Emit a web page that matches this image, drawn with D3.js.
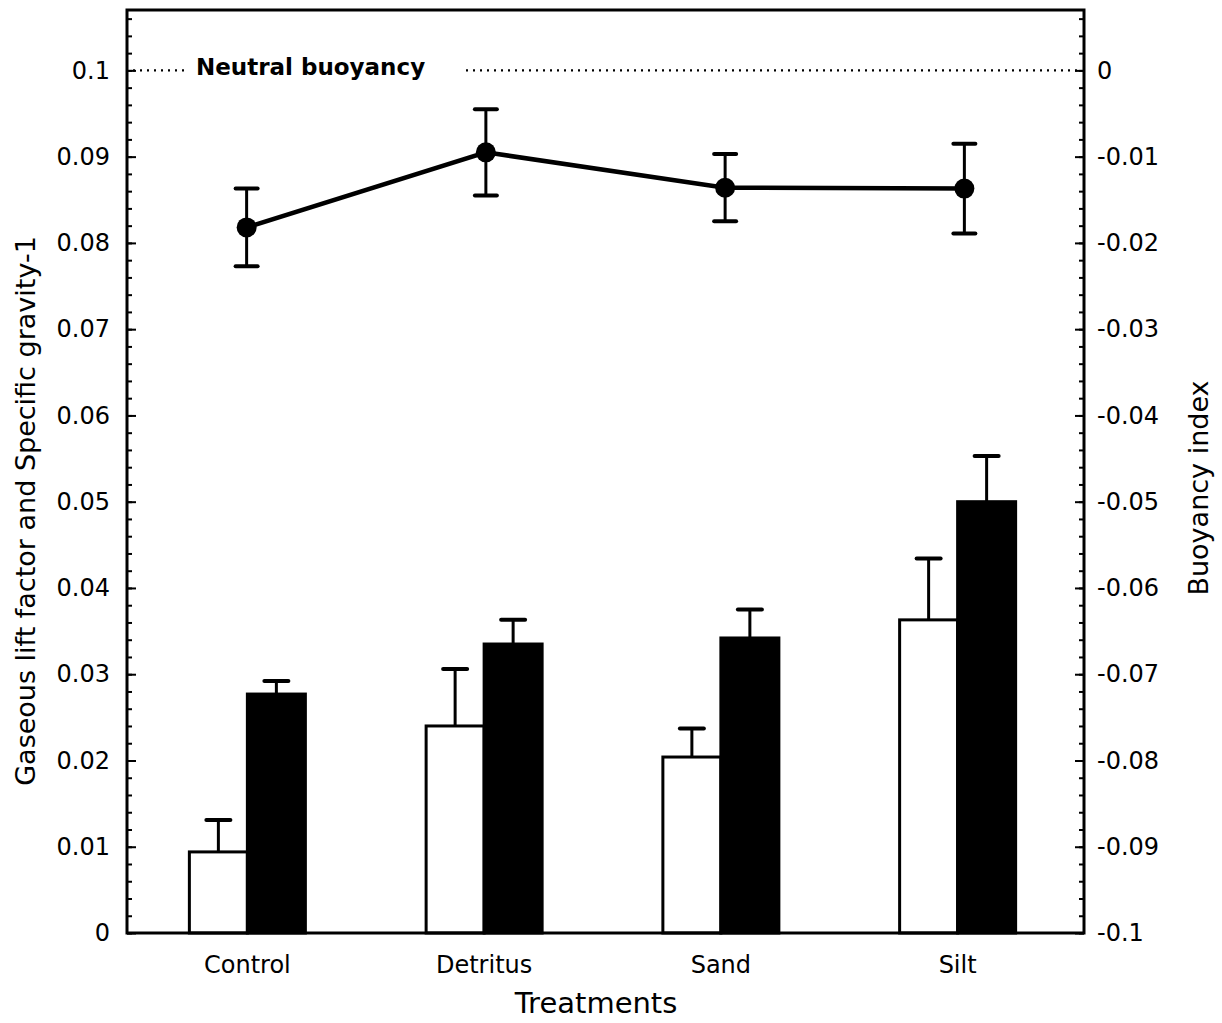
<!DOCTYPE html>
<html>
<head>
<meta charset="utf-8">
<script src="https://cdn.jsdelivr.net/npm/d3@7"></script>
<style>
  html, body { margin: 0; padding: 0; background: #fff; }
  svg text { font-family: "DejaVu Sans", sans-serif; fill: #000; }
</style>
</head>
<body>
<svg id="chart" width="1222" height="1023"></svg>
<script>
// Treatments on the x axis
const categories = ["Control", "Detritus", "Sand", "Silt"];

// Gaseous lift factor (open bars) with upper standard error
const liftFactor    = [0.0094, 0.0240, 0.0204, 0.0363];
const liftFactorErr = [0.0037, 0.0066, 0.0033, 0.0071];

// Specific gravity - 1 (filled bars) with upper standard error
const specGravity    = [0.0277, 0.0335, 0.0342, 0.0500];
const specGravityErr = [0.0015, 0.0028, 0.0033, 0.0053];

// Buoyancy index (line, right axis) with standard error
const buoyancy    = [-0.0182, -0.0095, -0.0136, -0.0137];
const buoyancyErr = [0.0045, 0.0050, 0.0039, 0.0052];

// Tick labels
const leftTicks  = [0, 0.01, 0.02, 0.03, 0.04, 0.05, 0.06, 0.07, 0.08, 0.09, 0.1];
const rightTicks = [-0.1, -0.09, -0.08, -0.07, -0.06, -0.05, -0.04, -0.03, -0.02, -0.01, 0];

const FONT = "DejaVu Sans, sans-serif";
const svg = d3.select("#chart");
const plotLeft = 127, plotRight = 1084, plotTop = 10, plotBottom = 933;

const yL = d3.scaleLinear().domain([0, 0.107]).range([plotBottom, plotTop]);
const yR = d3.scaleLinear().domain([-0.1, 0.007]).range([plotBottom, plotTop]);

const xLine = d3.scalePoint().domain(categories).range([plotLeft, plotRight]).padding(0.5);
const xBar  = d3.scalePoint().domain(categories).range([129, 1076]).padding(0.5);
const barW = 58;

const fmt = d => d === 0 ? "0" : String(+d.toFixed(2));

// Minor ticks (every 0.002), inward
const minorL = d3.range(0, 0.1071, 0.002).map(v => +v.toFixed(3));
const minorR = d3.range(-0.1, 0.0071, 0.002).map(v => +v.toFixed(3));

svg.append("g").attr("transform", `translate(${plotLeft},0)`)
  .call(d3.axisLeft(yL).tickValues(minorL).tickSize(-5).tickFormat(""))
  .call(g => g.select(".domain").remove())
  .selectAll("line").attr("stroke-width", 2);

svg.append("g").attr("transform", `translate(${plotRight},0)`)
  .call(d3.axisRight(yR).tickValues(minorR).tickSize(-5).tickFormat(""))
  .call(g => g.select(".domain").remove())
  .selectAll("line").attr("stroke-width", 2);

// Major left axis
const gL = svg.append("g").attr("transform", `translate(${plotLeft},0)`)
  .call(d3.axisLeft(yL).tickValues(leftTicks).tickSize(-9).tickPadding(17).tickFormat(fmt));
gL.select(".domain").remove();
gL.selectAll("line").attr("stroke-width", 2);
gL.selectAll("text").attr("font-size", 24).attr("font-family", FONT);

// Major right axis
const gR = svg.append("g").attr("transform", `translate(${plotRight},0)`)
  .call(d3.axisRight(yR).tickValues(rightTicks).tickSize(-9).tickPadding(13).tickFormat(fmt));
gR.select(".domain").remove();
gR.selectAll("line").attr("stroke-width", 2);
gR.selectAll("text").attr("font-size", 24).attr("font-family", FONT);

// Neutral buoyancy reference line
const nbY = yR(0);
svg.append("line").attr("x1", plotLeft + 6).attr("x2", 188).attr("y1", nbY).attr("y2", nbY)
  .attr("stroke", "#000").attr("stroke-width", 2.2).attr("stroke-dasharray", "2,5");
svg.append("line").attr("x1", 466).attr("x2", plotRight - 4).attr("y1", nbY).attr("y2", nbY)
  .attr("stroke", "#000").attr("stroke-width", 2.2).attr("stroke-dasharray", "2,5");
svg.append("text").attr("x", 196).attr("y", nbY + 5)
  .attr("font-size", 23).attr("font-weight", "bold").text("Neutral buoyancy");

// Bars
const barData = categories.map((c, i) => ({
  c, lift: liftFactor[i], liftErr: liftFactorErr[i], sg: specGravity[i], sgErr: specGravityErr[i]
}));

const errCap = 24;
function upperErr(g, x, v, e) {
  g.append("line").attr("x1", x).attr("x2", x).attr("y1", yL(v)).attr("y2", yL(v + e))
    .attr("stroke", "#000").attr("stroke-width", 3);
  g.append("line").attr("x1", x - errCap / 2).attr("x2", x + errCap / 2)
    .attr("y1", yL(v + e)).attr("y2", yL(v + e))
    .attr("stroke", "#000").attr("stroke-width", 4).attr("stroke-linecap", "round");
}

const bars = svg.append("g");
barData.forEach(d => {
  const cx = xBar(d.c);
  upperErr(bars, cx - barW / 2, d.lift, d.liftErr);
  upperErr(bars, cx + barW / 2, d.sg, d.sgErr);
  bars.append("rect").attr("x", cx - barW).attr("y", yL(d.lift))
    .attr("width", barW).attr("height", yL(0) - yL(d.lift))
    .attr("fill", "#fff").attr("stroke", "#000").attr("stroke-width", 3);
  bars.append("rect").attr("x", cx).attr("y", yL(d.sg))
    .attr("width", barW).attr("height", yL(0) - yL(d.sg))
    .attr("fill", "#000").attr("stroke", "#000").attr("stroke-width", 3);
});

// Buoyancy index line with error bars
const lineData = categories.map((c, i) => ({ c, v: buoyancy[i], e: buoyancyErr[i] }));
const lg = svg.append("g");
lineData.forEach(d => {
  const x = xLine(d.c);
  lg.append("line").attr("x1", x).attr("x2", x).attr("y1", yR(d.v - d.e)).attr("y2", yR(d.v + d.e))
    .attr("stroke", "#000").attr("stroke-width", 3);
  [d.v - d.e, d.v + d.e].forEach(v => {
    lg.append("line").attr("x1", x - 11).attr("x2", x + 11).attr("y1", yR(v)).attr("y2", yR(v))
      .attr("stroke", "#000").attr("stroke-width", 4).attr("stroke-linecap", "round");
  });
});
lg.append("path").datum(lineData)
  .attr("d", d3.line().x(d => xLine(d.c)).y(d => yR(d.v)))
  .attr("fill", "none").attr("stroke", "#000").attr("stroke-width", 4.5);
lg.selectAll("circle").data(lineData).enter().append("circle")
  .attr("cx", d => xLine(d.c)).attr("cy", d => yR(d.v)).attr("r", 10).attr("fill", "#000");

// Frame
svg.append("rect").attr("x", plotLeft).attr("y", plotTop)
  .attr("width", plotRight - plotLeft).attr("height", plotBottom - plotTop)
  .attr("fill", "none").attr("stroke", "#000").attr("stroke-width", 3);

// Category labels
svg.append("g").selectAll("text").data(categories).enter().append("text")
  .attr("x", d => xBar(d)).attr("y", 973).attr("text-anchor", "middle")
  .attr("font-size", 24).text(d => d);

// Axis titles
svg.append("text").attr("x", 596).attr("y", 1013).attr("text-anchor", "middle")
  .attr("font-size", 29).text("Treatments");
svg.append("text").attr("transform", "translate(35,511) rotate(-90)").attr("text-anchor", "middle")
  .attr("font-size", 27).text("Gaseous lift factor and Specific gravity-1");
svg.append("text").attr("transform", "translate(1208,488) rotate(-90)").attr("text-anchor", "middle")
  .attr("font-size", 27).text("Buoyancy index");
</script>
</body>
</html>
